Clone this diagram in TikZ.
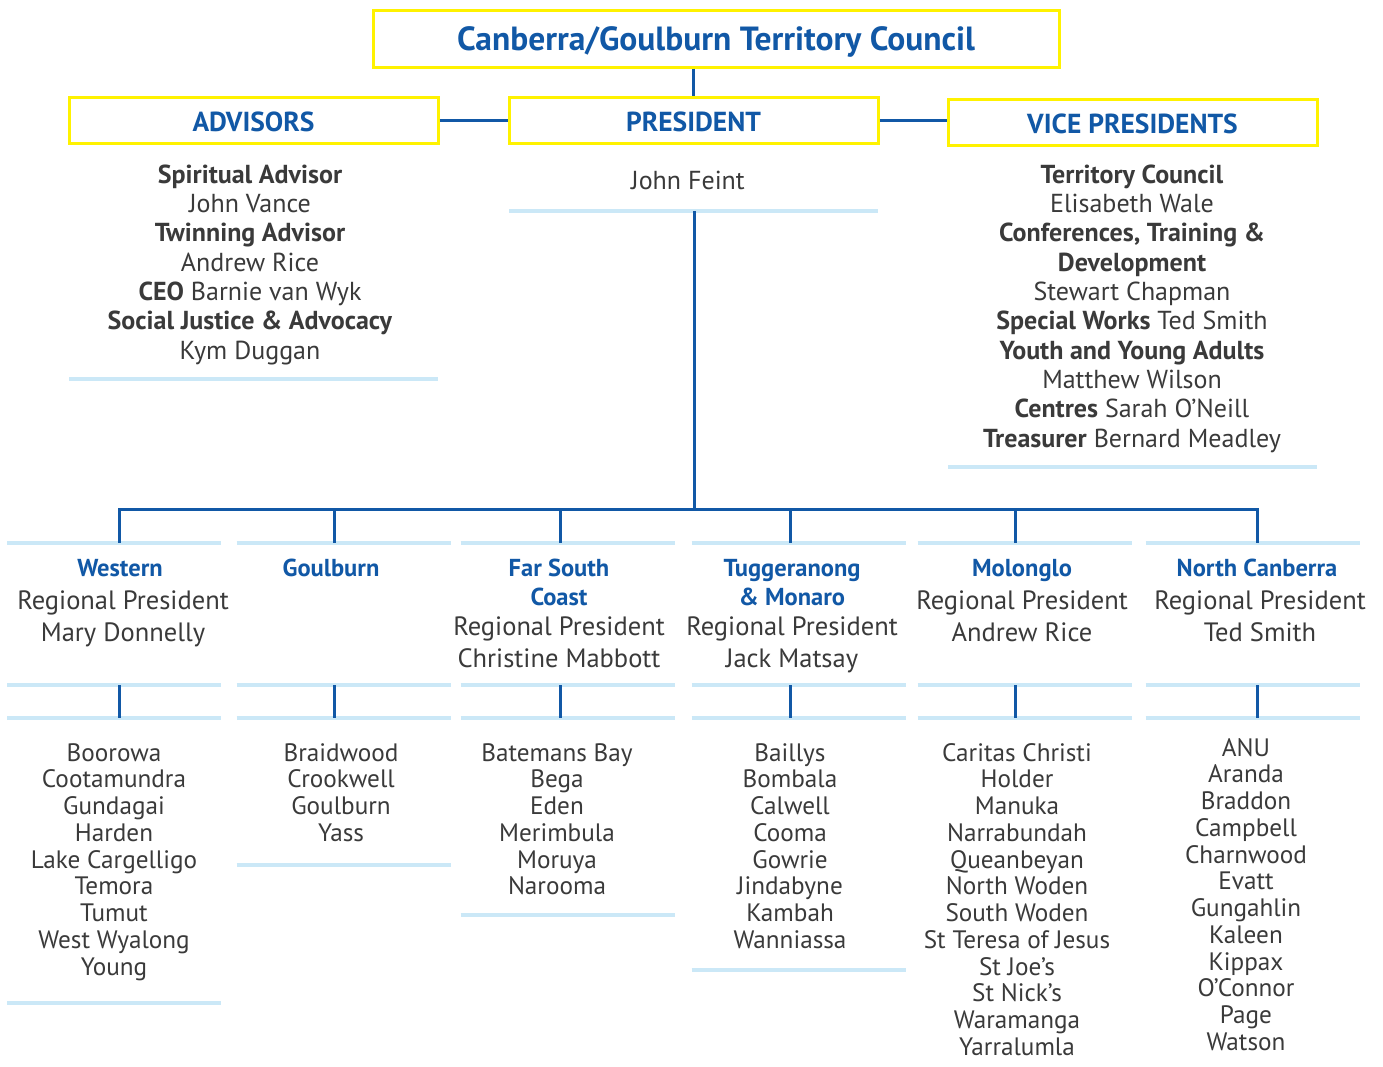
\documentclass[tikz,border=0pt]{standalone}
\usepackage{fontspec}
\setmainfont{PT Sans}
\newcommand\fsz[2]{\fontsize{#1}{#2}\selectfont}
\newcommand\lowr[2]{\raisebox{-#1}[\height][\depth]{#2}}
\definecolor{blu}{HTML}{1158A6}
\definecolor{yel}{HTML}{FFF200}
\definecolor{lblu}{HTML}{CBE8F7}
\definecolor{gry}{HTML}{3A3A3A}
\begin{document}
\begin{tikzpicture}[x=1pt,y=-1pt,
  ybox/.style={draw=yel, line width=3pt, inner sep=0, text=blu, font=\bfseries\fsz{27.5}{30}},
  area/.style={inner sep=0, outer sep=0},
  light/.style={draw=lblu, line width=4pt},
  conn/.style={draw=blu, line width=3pt},
  body/.style={text=gry, align=center, inner sep=0, anchor=base, font=\fsz{26}{29.3}},
  hd/.style={text=blu, align=center, inner sep=0, anchor=base, font=\bfseries\fsz{24.5}{29}},
  rp/.style={text=gry, align=center, inner sep=0, anchor=base, font=\fsz{26.5}{32}},
  lst/.style={text=gry, align=center, inner sep=0, anchor=base, font=\fsz{25.2}{26.75}}]
\fill[white] (0,0) rectangle (1383,1066);
\useasboundingbox (0,0) rectangle (1383,1066);
% top boxes
\node[ybox, minimum width=686, minimum height=57, font=\bfseries\fsz{33.5}{36}] (t) at (716,38.5) {\lowr{3.5pt}{Canberra/Goulburn Territory Council}};
\node[ybox, minimum width=369, minimum height=46] (a) at (253.5,120) {\lowr{1.5pt}{ADVISORS}};
\node[ybox, minimum width=369, minimum height=46] (p) at (693.5,120) {\lowr{1.5pt}{PRESIDENT}};
\node[ybox, minimum width=369, minimum height=46] (v) at (1132.5,122) {\lowr{1.5pt}{VICE PRESIDENTS}};
\draw[conn] (p.north |- t.south) -- (p.north);
\draw[conn] (a.east) -- (p.west);
\draw[conn] (p.east) -- (p.east -| v.west);
% info areas
\node[area, minimum width=369, minimum height=68] (pi) at (693.5,177) {};
\node[area, minimum width=369, minimum height=236] (ai) at (253.5,261) {};
\node[area, minimum width=369, minimum height=322] (vi) at (1132.5,306) {};
\draw[light] (pi.south west) -- (pi.south east);
\draw[light] (ai.south west) -- (ai.south east);
\draw[light] (vi.south west) -- (vi.south east);
\node[body] (pn) at (688,189) {John Feint};
\node[body] (an) at (250,359) {\textbf{Spiritual Advisor}\\John Vance\\\textbf{Twinning Advisor}\\Andrew Rice\\\textbf{CEO} Barnie van Wyk\\\textbf{Social Justice \& Advocacy}\\Kym Duggan};
\node[body] (vn) at (1132,447) {\textbf{Territory Council}\\Elisabeth Wale\\\textbf{Conferences, Training \&}\\\textbf{Development}\\Stewart Chapman\\\textbf{Special Works} Ted Smith\\\textbf{Youth and Young Adults}\\Matthew Wilson\\\textbf{Centres} Sarah O’Neill\\\textbf{Treasurer} Bernard Meadley};
% bus
\coordinate (pj) at (694,509);
\draw[conn] (pj |- pi.south) -- (pj);
\coordinate (d1) at (119,509);
\coordinate (d2) at (334,509);
\coordinate (d3) at (560,509);
\coordinate (d4) at (790,509);
\coordinate (d5) at (1015,509);
\coordinate (d6) at (1257,509);
\draw[conn, line join=miter] (d1 |- 0,543) -- (d1) -- (d6) -- (d6 |- 0,543);
% column areas
\foreach \i/\cx in {1/114,2/343.5,3/567.5,4/798.5,5/1024.5,6/1252.5}{
  \node[area, minimum width=214, minimum height=142] (h\i) at (\cx,614) {};
  \draw[light] (h\i.north west) -- (h\i.north east);
  \draw[light] (h\i.south west) -- (h\i.south east);
}
\node[area, minimum width=214, minimum height=285] (l1) at (114,860.5) {};
\node[area, minimum width=214, minimum height=147] (l2) at (343.5,791.5) {};
\node[area, minimum width=214, minimum height=197] (l3) at (567.5,816.5) {};
\node[area, minimum width=214, minimum height=252] (l4) at (798.5,844) {};
\node[area, minimum width=214, minimum height=340] (l5) at (1024.5,888) {};
\node[area, minimum width=214, minimum height=340] (l6) at (1252.5,888) {};
\foreach \i in {1,...,6}{
  \draw[light] (l\i.north west) -- (l\i.north east);
  \draw[conn] (d\i) -- (d\i |- h\i.north);
  \draw[conn] (d\i |- h\i.south) -- (d\i |- l\i.north);
}
\foreach \i in {1,...,4}{
  \draw[light] (l\i.south west) -- (l\i.south east);
}
% column headers (anchor = baseline of last line)
\node[hd] (n1) at (120,576) {Western};
\node[rp] (r1) at (123,641) {Regional President\\Mary Donnelly};
\node[hd] (n2) at (331,576) {Goulburn};
\node[hd] (n3) at (559,605) {Far South\\Coast};
\node[rp] (r3) at (559,667) {Regional President\\Christine Mabbott};
\node[hd] (n4) at (792,605) {Tuggeranong\\\& Monaro};
\node[rp] (r4) at (792,667) {Regional President\\Jack Matsay};
\node[hd] (n5) at (1022,576) {Molonglo};
\node[rp] (r5) at (1022,641) {Regional President\\Andrew Rice};
\node[hd] (n6) at (1257,576) {North Canberra};
\node[rp] (r6) at (1260,641) {Regional President\\Ted Smith};
% lists
\node[lst] (s1) at (114,975) {Boorowa\\Cootamundra\\Gundagai\\Harden\\Lake Cargelligo\\Temora\\Tumut\\West Wyalong\\Young};
\node[lst] (s2) at (341,841.25) {Braidwood\\Crookwell\\Goulburn\\Yass};
\node[lst] (s3) at (557,894.75) {Batemans Bay\\Bega\\Eden\\Merimbula\\Moruya\\Narooma};
\node[lst] (s4) at (790,948.25) {Baillys\\Bombala\\Calwell\\Cooma\\Gowrie\\Jindabyne\\Kambah\\Wanniassa};
\node[lst] (s5) at (1017,1055.25) {Caritas Christi\\Holder\\Manuka\\Narrabundah\\Queanbeyan\\North Woden\\South Woden\\St Teresa of Jesus\\St Joe’s\\St Nick’s\\Waramanga\\Yarralumla};
\node[lst] (s6) at (1246,1050.25) {ANU\\Aranda\\Braddon\\Campbell\\Charnwood\\Evatt\\Gungahlin\\Kaleen\\Kippax\\O’Connor\\Page\\Watson};
\end{tikzpicture}
\end{document}
